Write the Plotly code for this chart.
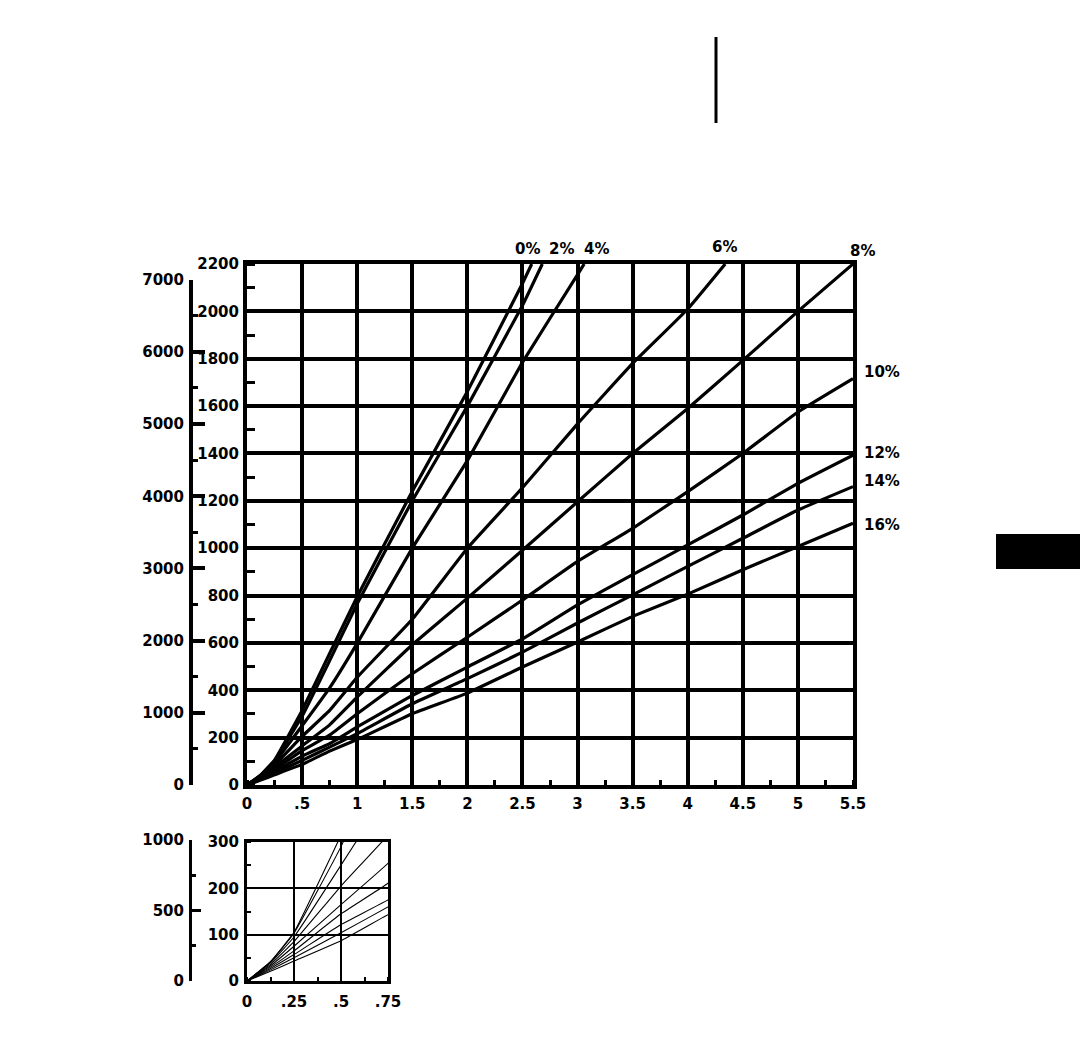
import plotly.graph_objects as go

# ---------------- data ----------------
SERIES_NAMES = ["0%", "2%", "4%", "6%", "8%", "10%", "12%", "14%", "16%"]

X_0 = [0, 0.125, 0.25, 0.5, 0.75, 1.0, 1.5, 2.0, 2.5, 2.584]
Y_0 = [0, 42, 105, 315, 555, 795, 1240, 1662, 2118, 2200]

X_2 = [0, 0.125, 0.25, 0.5, 0.75, 1.0, 1.5, 2.0, 2.5, 2.68]
Y_2 = [0, 41, 103, 290, 525, 765, 1200, 1600, 2025, 2200]

X_4 = [0, 0.125, 0.25, 0.5, 0.75, 1.0, 1.5, 2.0, 2.5, 3.0, 3.06]
Y_4 = [0, 39, 95, 250, 410, 598, 1000, 1370, 1785, 2155, 2200]

X_6 = [0, 0.125, 0.25, 0.5, 0.75, 1.0, 1.5, 2.0, 2.5, 3.0, 3.5, 4.0, 4.34]
Y_6 = [0, 36, 85, 205, 315, 455, 700, 1000, 1255, 1525, 1780, 2010, 2200]

X_LONG = [0, 0.125, 0.25, 0.5, 0.75, 1.0, 1.5, 2.0, 2.5, 3.0, 3.5, 4.0, 4.5, 5.0, 5.5]
Y_8 = [0, 33, 75, 165, 254, 371, 592, 789, 991, 1196, 1400, 1590, 1793, 2000, 2200]
Y_10 = [0, 30, 65, 145, 211, 301, 470, 624, 781, 944, 1084, 1239, 1400, 1575, 1716]
Y_12 = [0, 27, 57, 122, 175, 245, 378, 498, 617, 761, 888, 1014, 1140, 1274, 1393]
Y_14 = [0, 24, 50, 104, 160, 217, 343, 449, 561, 684, 803, 923, 1042, 1161, 1260]
Y_16 = [0, 21, 43, 87, 143, 192, 301, 388, 498, 604, 712, 806, 909, 1007, 1105]

SERIES_X = [X_0, X_2, X_4, X_6, X_LONG, X_LONG, X_LONG, X_LONG, X_LONG]
SERIES_Y = [Y_0, Y_2, Y_4, Y_6, Y_8, Y_10, Y_12, Y_14, Y_16]

# tick labels
MAIN_X_TICKS = [0, 0.5, 1, 1.5, 2, 2.5, 3, 3.5, 4, 4.5, 5, 5.5]
MAIN_X_TEXT = ["0", ".5", "1", "1.5", "2", "2.5", "3", "3.5", "4", "4.5", "5", "5.5"]
MAIN_Y_TICKS = [0, 200, 400, 600, 800, 1000, 1200, 1400, 1600, 1800, 2000, 2200]
MAIN_Y_TEXT = [str(v) for v in MAIN_Y_TICKS]
FEET_TICKS = [0, 1000, 2000, 3000, 4000, 5000, 6000, 7000]
FEET_TEXT = [str(v) for v in FEET_TICKS]

INSET_X_TICKS = [0, 0.25, 0.5, 0.75]
INSET_X_TEXT = ["0", ".25", ".5", ".75"]
INSET_Y_TICKS = [0, 100, 200, 300]
INSET_Y_TEXT = ["0", "100", "200", "300"]
INSET_FEET_TICKS = [0, 500, 1000]
INSET_FEET_TEXT = ["0", "500", "1000"]

M_TO_FT = 3.28084

# label placement offsets (style only)
TOP_LABELS = {"0%": (-4, 15), "2%": (19, 15), "4%": (12, 15), "6%": (-1, 17), "8%": (9, 13)}
RIGHT_LABELS = {"10%": 7, "12%": 2, "14%": 6, "16%": -2}

# ---------------- layout geometry ----------------
W, H = 1080, 1058
def px_x(p): return p / W
def px_y(p): return 1 - p / H

FONT = dict(family="DejaVu Sans", size=15, color="black", weight="bold")

fig = go.Figure()

for name, xs, ys in zip(SERIES_NAMES, SERIES_X, SERIES_Y):
    fig.add_trace(go.Scatter(x=xs, y=ys, mode="lines", name=name,
                             line=dict(color="black", width=3.2, shape="spline", smoothing=0.3),
                             showlegend=False, hoverinfo="skip", xaxis="x", yaxis="y"))
for name, xs, ys in zip(SERIES_NAMES, SERIES_X, SERIES_Y):
    fig.add_trace(go.Scatter(x=xs, y=ys, mode="lines", name=name,
                             line=dict(color="black", width=1.1, shape="spline", smoothing=0.3),
                             showlegend=False, hoverinfo="skip", xaxis="x2", yaxis="y2"))
# empty traces so the free-standing feet axes get their subplots
fig.add_trace(go.Scatter(x=[], y=[], xaxis="x3", yaxis="y3", showlegend=False))
fig.add_trace(go.Scatter(x=[], y=[], xaxis="x4", yaxis="y4", showlegend=False))

main_dom_x = [px_x(247), px_x(853)]
main_dom_y = [px_y(785), px_y(264)]
inset_dom_x = [px_x(247), px_x(388)]
inset_dom_y = [px_y(981), px_y(842)]

ft_top_px = 785 - (7000 / M_TO_FT) * (785 - 264) / 2200
inset_ft_top_px = 981 - (1000 / M_TO_FT) * (981 - 842) / 300

common = dict(showline=True, linecolor="black", mirror=True, zeroline=False,
              gridcolor="black", tickfont=FONT, ticks="", automargin=False)

fig.update_layout(
    template="none",
    width=W, height=H, margin=dict(l=0, r=0, t=0, b=0, pad=0), autosize=False,
    paper_bgcolor="white", plot_bgcolor="white", font=FONT,
    xaxis=dict(domain=main_dom_x, range=[0, 5.5], anchor="y",
               tickvals=MAIN_X_TICKS, ticktext=MAIN_X_TEXT, gridwidth=4, linewidth=4,
               ticklabelstandoff=2,
               minor=dict(ticks="inside", ticklen=5, tickwidth=2.5, tickcolor="black",
                          dtick=0.25, tick0=0, showgrid=False), **common),
    yaxis=dict(domain=main_dom_y, range=[0, 2200], anchor="x",
               tickvals=MAIN_Y_TICKS, ticktext=MAIN_Y_TEXT, gridwidth=4, linewidth=4,
               ticklabelstandoff=1,
               minor=dict(ticks="inside", ticklen=8, tickwidth=3, tickcolor="black",
                          dtick=100, tick0=0, showgrid=False), **common),
    xaxis2=dict(domain=inset_dom_x, range=[0, 0.75], anchor="y2",
                tickvals=INSET_X_TICKS, ticktext=INSET_X_TEXT, gridwidth=1.8, linewidth=3,
                ticklabelstandoff=5,
                minor=dict(ticks="inside", ticklen=4, tickwidth=2, tickcolor="black",
                           dtick=0.125, tick0=0, showgrid=False), **common),
    yaxis2=dict(domain=inset_dom_y, range=[0, 300], anchor="x2",
                tickvals=INSET_Y_TICKS, ticktext=INSET_Y_TEXT, gridwidth=1.8, linewidth=3,
                ticklabelstandoff=2,
                minor=dict(ticks="inside", ticklen=4, tickwidth=2, tickcolor="black",
                           dtick=50, tick0=0, showgrid=False), **common),
    xaxis3=dict(domain=[0, 0.01], anchor="y3", visible=False, range=[0, 1], automargin=False),
    yaxis3=dict(domain=[px_y(785), px_y(ft_top_px)], range=[0, 7000], anchor="free",
                position=px_x(191), side="left", showline=True, linecolor="black", linewidth=4,
                showgrid=False, zeroline=False, tickvals=FEET_TICKS, ticktext=FEET_TEXT,
                ticks="inside", ticklen=12, tickwidth=3.5, tickcolor="black", tickfont=FONT,
                ticklabelstandoff=2, automargin=False,
                minor=dict(ticks="inside", ticklen=5, tickwidth=3, tickcolor="black",
                           dtick=500, tick0=0, showgrid=False)),
    xaxis4=dict(domain=[0, 0.01], anchor="y4", visible=False, range=[0, 1], automargin=False),
    yaxis4=dict(domain=[px_y(981), px_y(inset_ft_top_px)], range=[0, 1000], anchor="free",
                position=px_x(190), side="left", showline=True, linecolor="black", linewidth=3,
                showgrid=False, zeroline=False, tickvals=INSET_FEET_TICKS, ticktext=INSET_FEET_TEXT,
                ticks="inside", ticklen=9, tickwidth=3, tickcolor="black", tickfont=FONT,
                ticklabelstandoff=2, automargin=False,
                minor=dict(ticks="inside", ticklen=4, tickwidth=2.5, tickcolor="black",
                           dtick=250, tick0=0, showgrid=False)),
)

# series labels, positioned from each curve's end point
for name, xs, ys in zip(SERIES_NAMES, SERIES_X, SERIES_Y):
    if name in TOP_LABELS:
        dx, dy = TOP_LABELS[name]
        fig.add_annotation(x=xs[-1], y=ys[-1], xref="x", yref="y", text=name,
                           showarrow=False, xshift=dx, yshift=dy, font=FONT,
                           xanchor="center", yanchor="middle")
    else:
        dy = RIGHT_LABELS[name]
        fig.add_annotation(x=xs[-1], y=ys[-1], xref="x", yref="y", text=name,
                           showarrow=False, xshift=9, yshift=dy, font=FONT,
                           xanchor="left", yanchor="middle")

# page decorations
fig.add_shape(type="line", xref="paper", yref="paper",
              x0=px_x(716), x1=px_x(716), y0=px_y(37), y1=px_y(123),
              line=dict(color="black", width=3))
fig.add_shape(type="rect", xref="paper", yref="paper",
              x0=px_x(996), x1=1, y0=px_y(569), y1=px_y(534),
              line=dict(width=0), fillcolor="black")

fig.write_html("out.html", config={"displayModeBar": False, "responsive": False},
               post_script="document.body.style.margin='0px';document.body.style.overflow='hidden';")
